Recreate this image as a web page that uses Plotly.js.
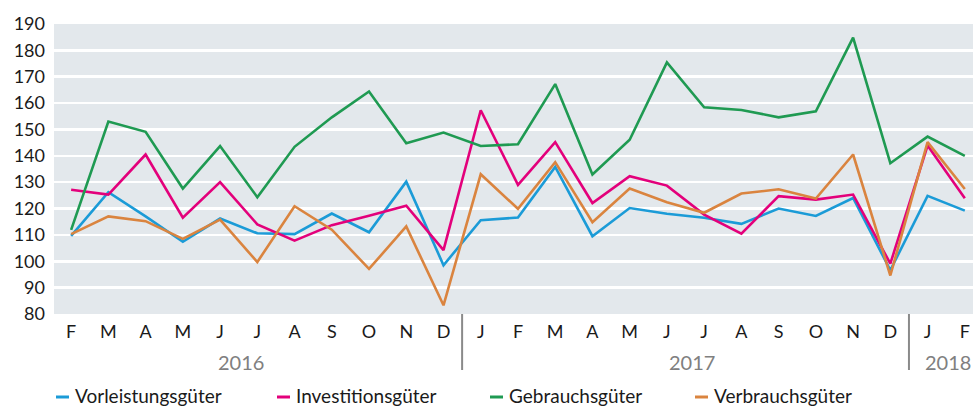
<!DOCTYPE html>
<html>
<head>
<meta charset="utf-8">
<script src="https://cdn.plot.ly/plotly-3.0.1.min.js"></script>
<style>html,body{margin:0;padding:0;background:#fff;}#chart{width:973px;height:409px;}</style>
</head>
<body>
<div id="chart"></div>
<script>
const months = ['F','M','A','M','J','J','A','S','O','N','D','J','F','M','A','M','J','J','A','S','O','N','D','J','F'];
const years = ['2016','2017','2018'];
const yearPos = [4.55, 16.67, 23.55];
const yearBreaks = [10.5, 22.5];

const seriesNames = ['Vorleistungsgüter','Investitionsgüter','Gebrauchsgüter','Verbrauchsgüter'];
const seriesColors = ['#1b9bd7','#e3007b','#1f9a52','#da843f'];

const vorleistung = [109.6,126.2,117,107.4,116.2,110.6,110.3,118.1,111,130.2,98.5,115.6,116.6,135.8,109.5,120.2,118,116.5,114.2,120,117.2,124,96.6,124.8,119.2];
const investition = [127.1,125.3,140.5,116.5,130,114,107.8,113.7,117.3,121.1,104.2,157.3,129,145.2,122.1,132.3,128.7,117.7,110.5,124.7,123.4,125.3,99.1,143.9,123.9];
const gebrauch = [111.9,153,149.1,127.6,143.7,124.3,143.4,154.6,164.4,144.8,148.8,143.7,144.4,167.2,132.9,146.1,175.4,158.4,157.4,154.6,156.9,184.8,137.2,147.3,140];
const verbrauch = [110.3,117,115.2,108.5,115.8,99.7,120.9,112,97.1,113.2,83.3,133,119.9,137.6,114.8,127.6,122.4,118.4,125.7,127.3,123.8,140.5,94.6,145.2,127.4];

const seriesValues = [vorleistung, investition, gebrauch, verbrauch];
const xIdx = months.map((m,i)=>i);

const traces = seriesValues.map((vals,k)=>({
  x: xIdx, y: vals, type:'scatter', mode:'lines', name: seriesNames[k],
  line:{color: seriesColors[k], width:2.6}, showlegend:false, cliponaxis:false
}));

const FONT = 'Lato, "Noto Sans", sans-serif';
const W = 973, H = 409, L = 54, T = 24, B = 95;
const pw = W - L, ph = H - T - B;
const px2x = p => (p - L)/pw;
const py2y = p => (H - B - p)/ph;

const shapes = [
  {type:'line', xref:'paper', yref:'y', x0:0, x1:1, y0:100, y1:100, line:{color:'#999999', width:2.2}, layer:'below'}
];
yearBreaks.forEach(b=>shapes.push({type:'line', xref:'x', yref:'paper', x0:b, x1:b, y0:0, y1:py2y(370), line:{color:'#8a8a8a', width:2}}));

const annotations = years.map((y,i)=>({
  text:y, xref:'x', yref:'paper', x:yearPos[i], y:py2y(362), xanchor:'center', yanchor:'middle',
  showarrow:false, font:{family:FONT, size:20, color:'#808080'}
}));

const legendX = [56, 277, 490, 695];
const legendY = 396;
seriesNames.forEach((n,k)=>{
  shapes.push({type:'line', xref:'paper', yref:'paper', x0:px2x(legendX[k]), x1:px2x(legendX[k]+13), y0:py2y(legendY+1), y1:py2y(legendY+1), line:{color:seriesColors[k], width:3}});
  annotations.push({text:n, xref:'paper', yref:'paper', x:px2x(legendX[k]+17), y:py2y(legendY), xanchor:'left', yanchor:'middle', showarrow:false, font:{family:FONT, size:19, color:'#1a1a1a'}});
});

const layout = {
  width:W, height:H,
  margin:{l:L, r:0, t:T, b:B, pad:0},
  paper_bgcolor:'#ffffff', plot_bgcolor:'#e3e8ec',
  font:{family:FONT, size:18, color:'#1a1a1a'},
  xaxis:{range:[-0.46,24.22], tickmode:'array', tickvals:xIdx, ticktext:months, showgrid:false, zeroline:false, showline:false, ticks:'', ticklabelstandoff:5, tickfont:{family:FONT, size:18, color:'#1a1a1a'}, fixedrange:true},
  yaxis:{range:[80,190], dtick:10, tick0:80, showgrid:true, gridcolor:'#ffffff', gridwidth:2.5, zeroline:false, showline:false, ticks:'', ticklabelstandoff:8, tickfont:{family:FONT, size:18, color:'#1a1a1a'}, fixedrange:true},
  shapes: shapes,
  annotations: annotations,
  showlegend:false
};

Plotly.newPlot('chart', traces, layout, {displayModeBar:false, staticPlot:true});
</script>
</body>
</html>
